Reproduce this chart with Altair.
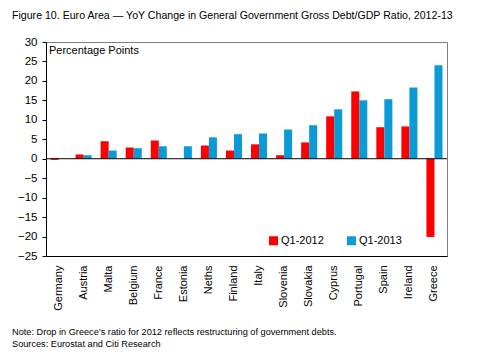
import altair as alt
import pandas as pd

countries = ["Germany", "Austria", "Malta", "Belgium", "France", "Estonia", "Neths",
             "Finland", "Italy", "Slovenia", "Slovakia", "Cyprus", "Portugal", "Spain",
             "Ireland", "Greece"]
q1_2012 = [-0.3, 1.1, 4.5, 2.9, 4.7, 0.0, 3.4, 2.1, 3.7, 0.9, 4.2, 10.9, 17.3, 8.1, 8.3, -20.1]
q1_2013 = [0.0, 0.9, 2.1, 2.7, 3.2, 3.2, 5.5, 6.3, 6.5, 7.5, 8.6, 12.7, 15.0, 15.3, 18.3, 24.0]
series = ["Q1-2012", "Q1-2013"]
y_ticks = [-25, -20, -15, -10, -5, 0, 5, 10, 15, 20, 25, 30]

title_text = "Figure 10. Euro Area \u2014 YoY Change in General Government Gross Debt/GDP Ratio, 2012-13"
unit_text = "Percentage Points"
note_lines = ["Note: Drop in Greece\u2019s ratio for 2012 reflects restructuring of government debts.",
              "Sources: Eurostat and Citi Research"]

rows = []
for c, a, b in zip(countries, q1_2012, q1_2013):
    rows.append({"country": c, "series": series[0], "value": a})
    rows.append({"country": c, "series": series[1], "value": b})
df = pd.DataFrame(rows)

FONT = "Liberation Sans"
yscale = alt.Scale(domain=[-25, 30], nice=False, zero=False)
yaxis = alt.Axis(title=None, values=y_ticks, grid=False, tickSize=4,
                 tickColor="black", domainColor="black", labelColor="black",
                 labelFontSize=11.5, labelPadding=5, labelFont=FONT,
                 labelOverlap=False, labelBound=False, labelFlush=False)

bars = alt.Chart(df).mark_bar().encode(
    x=alt.X("country:N", sort=countries,
            scale=alt.Scale(paddingInner=0.36, paddingOuter=0.18),
            axis=alt.Axis(title=None, labelAngle=-90, ticks=False, labelPadding=9,
                          domainColor="black", labelColor="black", labelFontSize=11,
                          labelFont=FONT)),
    xOffset=alt.XOffset("series:N", sort=series),
    y=alt.Y("value:Q", scale=yscale, axis=yaxis),
    color=alt.Color("series:N", sort=series,
                    scale=alt.Scale(domain=series, range=["#FF0000", "#0A9AD6"]),
                    legend=alt.Legend(title=None, orient="none", legendX=222, legendY=193,
                                      direction="horizontal", symbolType="square",
                                      symbolSize=81, symbolStrokeWidth=0, labelFontSize=11,
                                      labelFont=FONT, labelColor="black", columnPadding=22,
                                      symbolOffset=0, labelOffset=2, padding=0)),
)

zero = alt.Chart(pd.DataFrame({"value": [0]})).mark_rule(color="black", strokeWidth=1).encode(
    y=alt.Y("value:Q", scale=yscale, axis=yaxis))

unit = alt.Chart(pd.DataFrame({"t": [unit_text]})).mark_text(
    align="left", baseline="middle", fontSize=11, font=FONT, color="black").encode(
    text="t:N", x=alt.value(3), y=alt.value(9))

title = alt.Chart(pd.DataFrame({"t": [title_text]})).mark_text(
    align="left", baseline="middle", fontSize=10.6, font=FONT, color="black").encode(
    text="t:N", x=alt.value(-34), y=alt.value(-26))

note1 = alt.Chart(pd.DataFrame({"t": [note_lines[0]]})).mark_text(
    align="left", baseline="middle", fontSize=9.2, font=FONT, color="black").encode(
    text="t:N", x=alt.value(-34), y=alt.value(290))
note2 = alt.Chart(pd.DataFrame({"t": [note_lines[1]]})).mark_text(
    align="left", baseline="middle", fontSize=9.2, font=FONT, color="black").encode(
    text="t:N", x=alt.value(-34), y=alt.value(302))

chart = alt.layer(bars, zero, unit, title, note1, note2).properties(
    width=401, height=214,
    autosize=alt.AutoSizeParams(type="none"),
    padding={"left": 46, "top": 42, "right": 38, "bottom": 99},
    background="white",
).configure_view(stroke="#808080", strokeWidth=1)

chart.save("out.html", embed_options={"renderer": "svg", "actions": False})
